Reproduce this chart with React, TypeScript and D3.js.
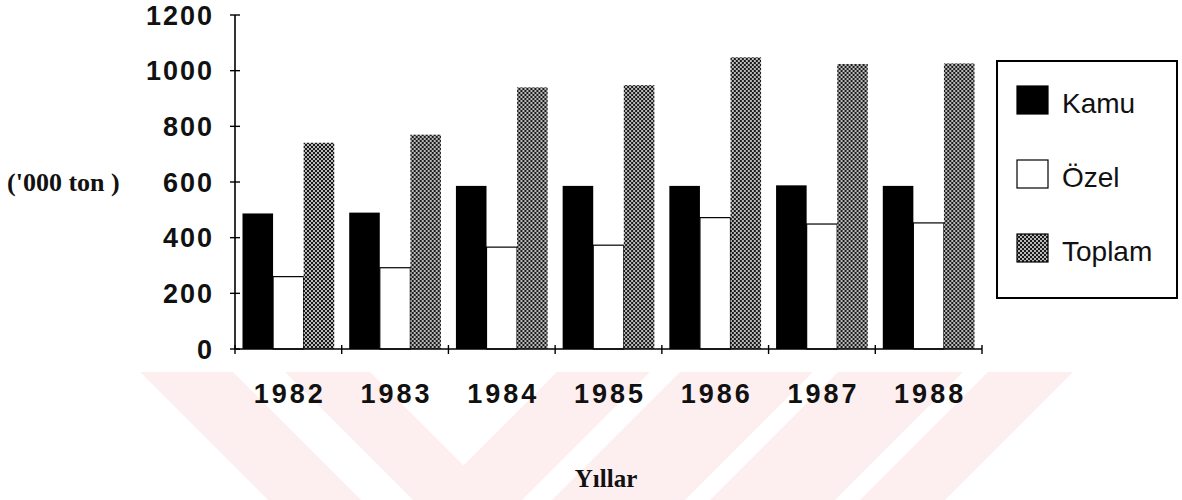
import React from "react";
import * as d3 from "d3";

const years = ["1982", "1983", "1984", "1985", "1986", "1987", "1988"];
const kamu = [487, 490, 586, 586, 586, 588, 586];
const ozel = [260, 292, 366, 373, 472, 449, 453];
const toplam = [741, 770, 940, 948, 1048, 1024, 1026];
const seriesNames = ["Kamu", "Özel", "Toplam"];
const yTicks = [0, 200, 400, 600, 800, 1000, 1200];

// background watermark stripes (top-left x, top-right x, lean)
const stripes: [number, number, number][] = [
  [140, 233, 1],
  [285, 370, 1],
  [557, 650, -1],
  [680, 813, -1],
  [838, 963, -1],
  [988, 1073, -1],
];

const W = 1182;
const H = 500;
const left = 235;
const right = 982;
const top = 15;
const bottom = 349;

const fills: Record<string, string> = {
  Kamu: "#000",
  "Özel": "#fff",
  Toplam: "url(#dots)",
};

export default function App() {
  const x0 = d3.scaleBand<string>().domain(years).range([left, right]).padding(0);
  const bw = x0.bandwidth();
  const x1 = d3.scaleBand<string>().domain(seriesNames).range([7.5, bw - 7.5]).padding(0);
  const y = d3.scaleLinear().domain([0, 1200]).range([bottom, top]);

  const values: Record<string, number[]> = { Kamu: kamu, "Özel": ozel, Toplam: toplam };
  const edges = [...years.map((d) => x0(d) as number), right];

  const sans = "'Liberation Sans', Arial, sans-serif";
  const serif = "'Liberation Serif', 'Times New Roman', serif";

  return (
    <svg
      width={W}
      height={H}
      style={{ position: "fixed", left: 0, top: 0, background: "#fff" }}
    >
      <defs>
        <pattern id="dots" width="4" height="4" patternUnits="userSpaceOnUse">
          <rect width="4" height="4" fill="#1a1a1a" />
          <circle cx="1" cy="1" r="0.95" fill="#fff" />
          <circle cx="3" cy="3" r="0.95" fill="#fff" />
        </pattern>
      </defs>

      {/* watermark */}
      <g fill="#fdeef0">
        {stripes.map(([a, b, dir], i) => {
          const d = (500 - 372) * dir;
          return (
            <polygon
              key={i}
              points={`${a},372 ${b},372 ${b + d},500 ${a + d},500`}
            />
          );
        })}
      </g>

      {/* bars */}
      {years.map((yr, i) => (
        <g key={yr} transform={`translate(${x0(yr)},0)`}>
          {seriesNames.map((s) => {
            const v = values[s][i];
            return (
              <rect
                key={s}
                x={x1(s)}
                y={y(v)}
                width={x1.bandwidth()}
                height={bottom - y(v)}
                fill={fills[s]}
                stroke={s === "Özel" ? "#000" : "none"}
                strokeWidth={1.2}
              />
            );
          })}
        </g>
      ))}

      {/* y axis */}
      <line x1={left} x2={left} y1={y(1200)} y2={bottom} stroke="#000" strokeWidth={1.6} />
      {yTicks.map((t) => (
        <g key={t}>
          <line x1={left - 5} x2={left + 5} y1={y(t)} y2={y(t)} stroke="#000" strokeWidth={1.4} />
          <text
            x={214}
            y={y(t)}
            dy="0.36em"
            textAnchor="end"
            fontFamily={sans}
            fontWeight="bold"
            fontSize={27}
            letterSpacing={2}
            fill="#111"
          >
            {t}
          </text>
        </g>
      ))}

      {/* x axis */}
      <line x1={left} x2={right} y1={bottom} y2={bottom} stroke="#000" strokeWidth={1.6} />
      {edges.map((e, i) => (
        <line key={i} x1={e} x2={e} y1={bottom - 4} y2={bottom + 5} stroke="#000" strokeWidth={1.4} />
      ))}
      {years.map((yr) => (
        <text
          key={yr}
          x={(x0(yr) as number) + bw / 2 + 1.5}
          y={403}
          textAnchor="middle"
          fontFamily={sans}
          fontWeight="bold"
          fontSize={27}
          letterSpacing={3}
          fill="#111"
        >
          {yr}
        </text>
      ))}

      <text x={7} y={191} fontFamily={serif} fontWeight="bold" fontSize={26} fill="#111">
        ('000 ton )
      </text>
      <text x={606} y={487} textAnchor="middle" fontFamily={serif} fontWeight="bold" fontSize={25} fill="#111">
        Yıllar
      </text>

      {/* legend */}
      <rect x={997} y={61} width={180} height={237} fill="#fff" stroke="#000" strokeWidth={2} />
      {seriesNames.map((s, i) => {
        const sy = 86 + i * 74;
        return (
          <g key={s}>
            <rect
              x={1017}
              y={sy}
              width={31}
              height={28}
              fill={fills[s]}
              stroke="#000"
              strokeWidth={1.2}
            />
            <text x={1062} y={sy + 27} fontFamily={sans} fontSize={28} fill="#111">
              {s}
            </text>
          </g>
        );
      })}
    </svg>
  );
}
